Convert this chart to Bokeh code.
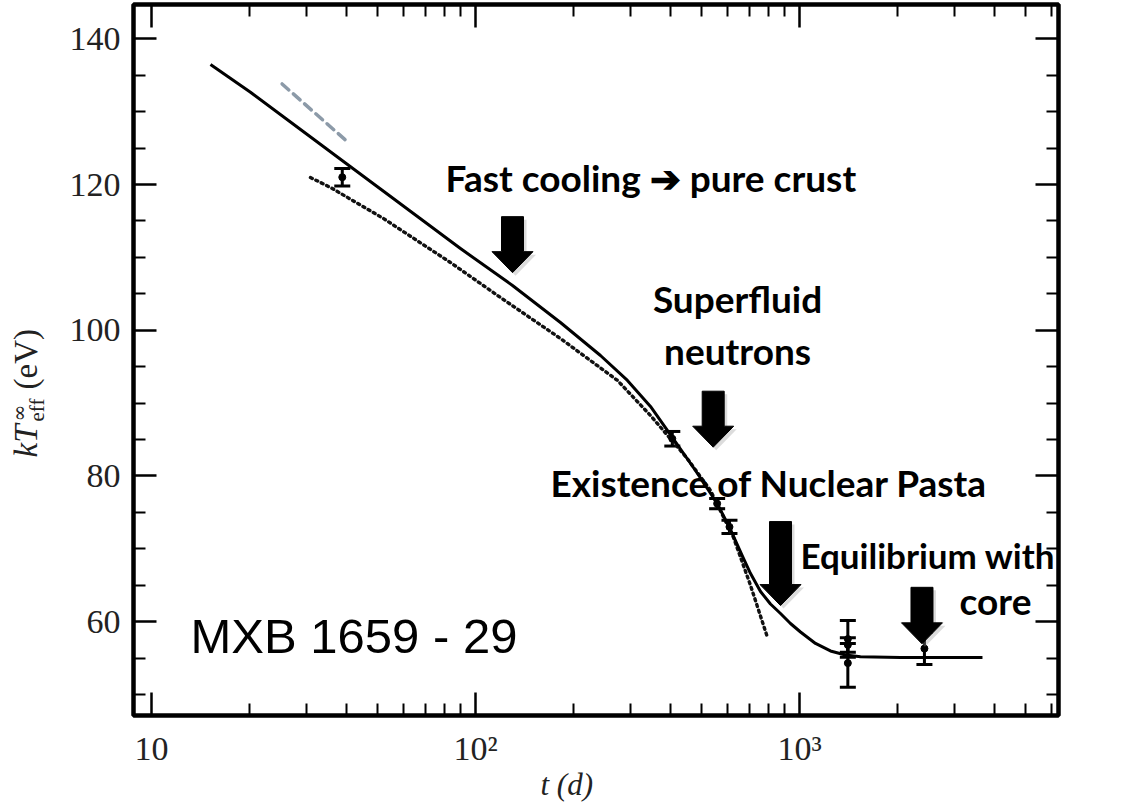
import numpy as np
from bokeh.plotting import figure
from bokeh.models import (Range1d, LogAxis, LinearAxis, FixedTicker, Label,
                          Whisker, ColumnDataSource, TeeHead)
from bokeh.embed import file_html
from bokeh.resources import INLINE

# ---------------- data ----------------
# full model (solid)
t_model = [15.21, 20.21, 28.84, 40.18, 50.91, 67.65, 89.88, 130.1, 182.9, 243.1, 294.4,
           346.8, 405.5, 477.5, 557.2, 608.1, 667.2, 706.2, 758.0, 813.6, 873.8, 937.9,
           1007.2, 1120.5, 1246.0, 1386.8, 1543.0, 2050.0, 3671.0]
T_model = [136.47, 132.67, 127.56, 122.79, 119.38, 115.29, 111.21, 106.14, 101.06, 96.53, 93.10,
           89.53, 85.27, 80.74, 76.21, 72.92, 68.94, 66.60, 64.13, 62.42, 61.11, 59.74,
           58.57, 57.0, 55.97, 55.42, 55.17, 55.07, 55.07]
# alternative model (dotted)
t_dot = [30.95, 35.69, 52.0, 83.71, 119.4, 182.9, 274.4, 346.8, 447.9, 531.4, 625.7, 706.2, 796.5]
T_dot = [120.96, 119.59, 115.33, 109.29, 104.49, 98.86, 93.10, 88.29, 82.53, 77.99, 71.54, 64.96, 57.82]
# short dashed grey segment
t_dash = [25.3, 39.7]
T_dash = [133.8, 126.1]
# observations with error bars
t_obs = [38.8, 405.0, 557.0, 608.0, 1410.0, 1410.0, 1410.0, 2430.0]
T_obs = [121.0, 85.1, 76.2, 73.0, 57.6, 56.8, 54.3, 56.3]
T_lo = [119.8, 84.1, 75.5, 72.1, 55.1, 55.8, 51.0, 54.1]
T_hi = [122.2, 86.1, 76.9, 73.9, 60.15, 57.8, 57.0, 58.5]

x_major = [10, 100, 1000]
x_major_labels = ["10", "10²", "10³"]
x_minor = [20, 30, 40, 50, 60, 70, 80, 90, 200, 300, 400, 500, 600, 700, 800, 900,
           2000, 3000, 4000, 5000, 6000]
y_major = [60, 80, 100, 120, 140]
y_minor = [50, 55, 65, 70, 75, 85, 90, 95, 105, 110, 115, 125, 130, 135]

# annotation arrows (tip position in data, shaft length in px)
arrow_t = [130.1, 541.6, 873.8, 2388.0]
arrow_T = [107.9, 83.94, 62.2, 56.95]
arrow_shaft = [35, 35, 63, 35.5]

# ---------------- figure ----------------
W, H = 1139, 805
ML, MR, MT, MB = 133, 81, 4, 90
X0, X1 = 8.8, 6301.0
Y0, Y1 = 47.11, 144.71

p = figure(width=W, height=H, x_axis_type="log",
           x_range=Range1d(X0, X1), y_range=Range1d(Y0, Y1),
           output_backend="svg", toolbar_location=None,
           min_border_left=ML, min_border_right=MR,
           min_border_top=MT, min_border_bottom=MB)
p.xgrid.visible = False
p.ygrid.visible = False
p.outline_line_color = "black"
p.outline_line_width = 4.5
p.background_fill_color = "white"
p.border_fill_color = "white"

p.add_layout(LogAxis(), "above")
p.add_layout(LinearAxis(), "right")

xt = FixedTicker(ticks=x_major, minor_ticks=x_minor)
yt = FixedTicker(ticks=y_major, minor_ticks=y_minor)
for ax in p.xaxis:
    ax.ticker = xt
for ax in p.yaxis:
    ax.ticker = yt
for ax in p.axis:
    ax.axis_line_color = None
    ax.major_tick_in = 23
    ax.major_tick_out = 0
    ax.minor_tick_in = 12
    ax.minor_tick_out = 0
    ax.major_tick_line_width = 2.5
    ax.minor_tick_line_width = 2
    ax.major_tick_line_color = "black"
    ax.minor_tick_line_color = "black"
    ax.major_label_text_font = "Liberation Serif"
    ax.major_label_text_font_size = "34px"
    ax.major_label_text_color = "#222222"

p.below[0].major_label_overrides = dict(zip(x_major, x_major_labels))
p.below[0].major_label_standoff = 14
p.left[0].major_label_standoff = 13
for ax in (p.above[0], p.right[0]):
    ax.major_label_text_font_size = "1px"
    ax.major_label_text_alpha = 0
    ax.major_label_standoff = 0

# ---------------- curves ----------------
p.line(t_dash, T_dash, line_color="#8c9aa8", line_width=3.5, line_dash="9 6", line_cap="round")
p.line(t_dot, T_dot, line_color="#111111", line_width=3.4, line_dash="2 4", line_cap="round")
p.line(t_model, T_model, line_color="black", line_width=3, line_join="round")

src = ColumnDataSource(dict(t=t_obs, T=T_obs, lo=T_lo, hi=T_hi))
p.add_layout(Whisker(source=src, base="t", lower="lo", upper="hi", dimension="height",
                     line_width=3, line_color="black",
                     lower_head=TeeHead(size=16, line_width=3, line_color="black"),
                     upper_head=TeeHead(size=16, line_width=3, line_color="black")))
p.scatter("t", "T", source=src, size=7, color="black")

# ---------------- arrows ----------------
frame_w = W - ML - MR
frame_h = H - MT - MB
px_dec = frame_w / np.log10(X1 / X0)
px_ev = frame_h / (Y1 - Y0)
SW, HW, HL = 22, 41, 21


def arrow_poly(tt, TT, shaft, ox=0.0, oy=0.0):
    dx = np.array([0, HW / 2, SW / 2, SW / 2, -SW / 2, -SW / 2, -HW / 2]) + ox
    dy = np.array([0, HL, HL, HL + shaft, HL + shaft, HL, HL]) + oy
    return list(tt * 10 ** (dx / px_dec)), list(TT + dy / px_ev)


sx, sy, ax_, ay_ = [], [], [], []
for tt, TT, sh in zip(arrow_t, arrow_T, arrow_shaft):
    a, b = arrow_poly(tt, TT, sh, 3, -3)
    sx.append(a); sy.append(b)
    a, b = arrow_poly(tt, TT, sh)
    ax_.append(a); ay_.append(b)
p.patches(sx, sy, fill_color="#9a9a9a", fill_alpha=0.35, line_color=None)
p.patches(ax_, ay_, fill_color="black", line_color="black", line_width=1)


# ---------------- texts ----------------
def lab(x, y, text, size, font="Lato", style="bold", align="left", angle=0.0,
        color="black", units="data", place="center"):
    lbl = Label(x=x, y=y, x_units=units, y_units=units, text=text, text_font=font,
                text_font_size=size, text_font_style=style, text_align=align,
                text_baseline="alphabetic", angle=angle, text_color=color)
    p.add_layout(lbl, place)


lab(80.8, 120.92, "Fast cooling ➔ pure crust", "37px")
lab(644.0, 104.31, "Superfluid", "37px", align="center")
lab(644.0, 97.27, "neutrons", "37px", align="center")
lab(170.4, 79.05, "Existence of Nuclear Pasta", "37px")
lab(1007.0, 69.2, "Equilibrium with", "35px")
lab(4027.0, 62.85, "core", "37px", align="center")
lab(13.2, 58.09, "MXB 1659 - 29", "49px", font="Liberation Sans", style="normal")

# axis titles: canvas pixel positions, hosted in the side panels so they are not clipped
lab(540, 784, "t (d)", "31px", font="Liberation Serif", style="italic", color="#222222",
    units="canvas", place="below")
ang = np.pi / 2
lab(25, 457, "kT", "33px", font="Liberation Serif", style="italic", angle=ang,
    color="#222222", units="canvas", place="left")
lab(18, 421, "∞", "20px", font="DejaVu Serif", style="normal", angle=ang,
    color="#222222", units="canvas", place="left")
lab(36, 421, "eff", "21px", font="Liberation Serif", style="normal", angle=ang,
    color="#222222", units="canvas", place="right")
lab(25, 389, "(eV)", "33px", font="Liberation Serif", style="normal", angle=ang,
    color="#222222", units="canvas", place="right")

open("out.html", "w").write(file_html(p, INLINE))
